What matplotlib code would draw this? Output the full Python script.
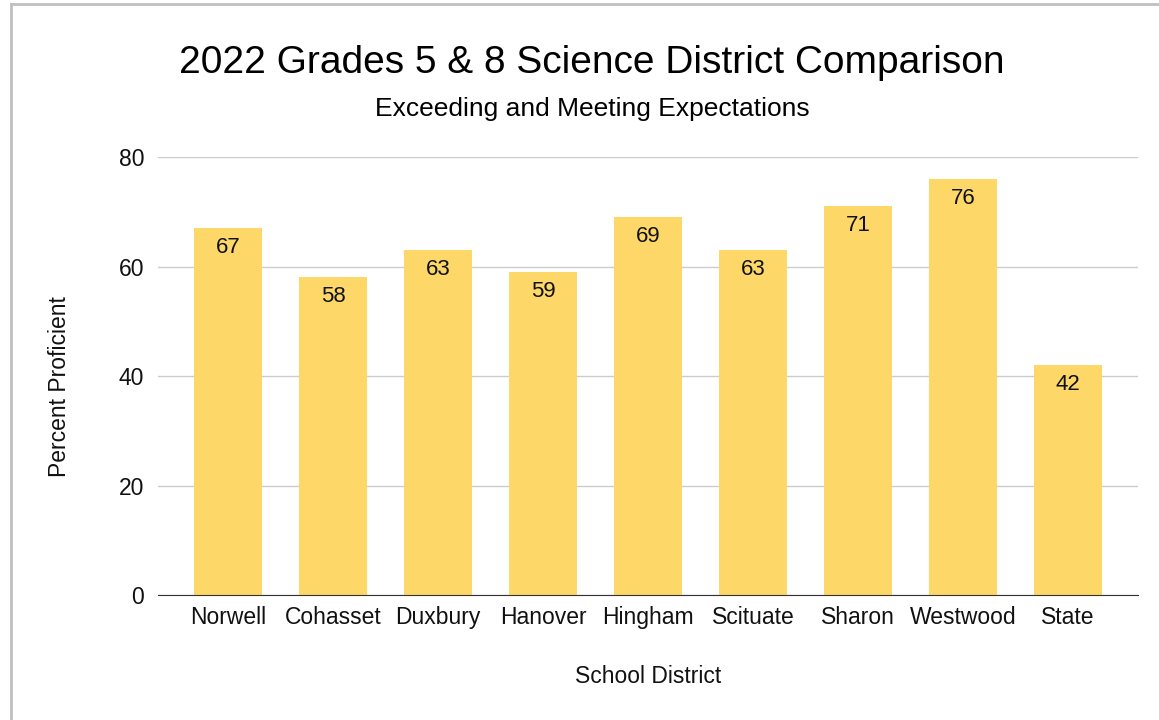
import matplotlib.pyplot as plt
from matplotlib.lines import Line2D

plt.rcParams['font.family'] = ['Liberation Sans', 'DejaVu Sans']

districts = ['Norwell', 'Cohasset', 'Duxbury', 'Hanover', 'Hingham',
             'Scituate', 'Sharon', 'Westwood', 'State']
proficient = [67, 58, 63, 59, 69, 63, 71, 76, 42]
yticks = [0, 20, 40, 60, 80]

bar_color = '#fdd868'
txt = '#111111'

fig = plt.figure(figsize=(11.59, 7.2), dpi=100)
ax = fig.add_axes([0.1363, 0.1736, 0.8456, 0.6083])

x = range(len(districts))
bars = ax.bar(x, proficient, width=0.65, color=bar_color, zorder=2)

for b, v in zip(bars, proficient):
    ax.annotate(str(v), (b.get_x() + b.get_width() / 2, v),
                xytext=(0, -14), textcoords='offset points',
                ha='center', va='center', fontsize=16, color=txt)

ax.set_xlim(-0.667, len(districts) - 1 + 0.667)
ax.set_ylim(0, 80)
ax.set_yticks(yticks)
ax.set_xticks(list(x))
ax.set_xticklabels(districts)
ax.grid(axis='y', color='#cccccc', linewidth=1, zorder=0)
ax.tick_params(axis='both', length=0, labelsize=16.5, colors=txt)
ax.tick_params(axis='y', pad=10)
ax.tick_params(axis='x', pad=8)
for s in ['top', 'right', 'left']:
    ax.spines[s].set_visible(False)
ax.spines['bottom'].set_color('#333333')
ax.spines['bottom'].set_zorder(3)

ax.set_ylabel('Percent Proficient', fontsize=16.5, color=txt)
ax.yaxis.set_label_coords(-0.0885, 0.477)
ax.set_xlabel('School District', fontsize=16.5, labelpad=26, color=txt)

fig.text(0.511, 0.913, '2022 Grades 5 & 8 Science District Comparison',
         ha='center', va='center', fontsize=28, color='black')
fig.text(0.511, 0.849, 'Exceeding and Meeting Expectations',
         ha='center', va='center', fontsize=19, color='black')

# light frame on the left and top edges
fig.add_artist(Line2D([0.0098, 0.0098], [0, 0.994], color='#c0c0c0',
                      linewidth=2, transform=fig.transFigure))
fig.add_artist(Line2D([0.0098, 1], [0.994, 0.994], color='#c0c0c0',
                      linewidth=2, transform=fig.transFigure))

fig.savefig('out.png', dpi=100, facecolor='white')
